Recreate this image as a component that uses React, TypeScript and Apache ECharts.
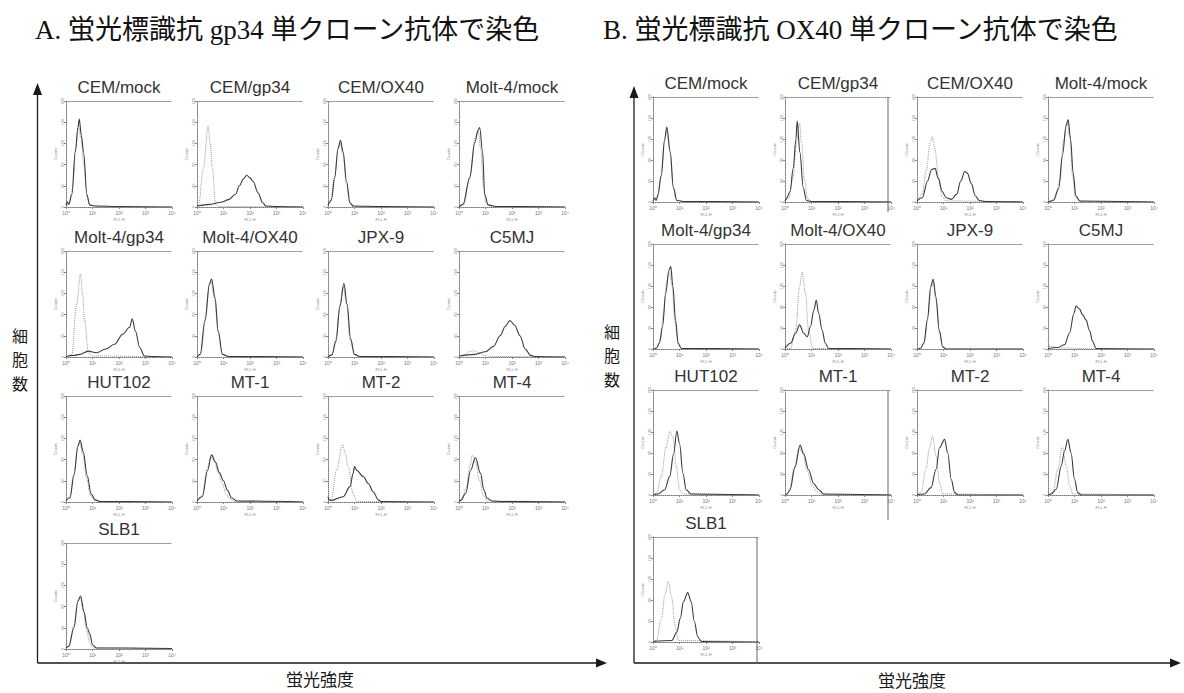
import React, { useEffect, useRef } from "react";
import * as echarts from "echarts";

type Pt = [number, number];

// x: log10 of fluorescence (0..4 decades), y: counts (0..200)
// ---------- Panel A (anti-gp34) ----------
const A_CEMmock_ctrl: Pt[] = [[0,1],[0.12,6],[0.25,35],[0.37,110],[0.48,152],[0.56,130],[0.68,80],[0.8,18],[0.92,3],[1.2,1],[4,0]];
const A_CEMmock_stain: Pt[] = [[0,3],[0.05,10],[0.1,5],[0.22,23],[0.35,104],[0.45,150],[0.5,166],[0.58,135],[0.66,104],[0.79,23],[0.89,4],[1.1,2],[2,1],[4,0]];
const A_CEMgp34_ctrl: Pt[] = [[0,2],[0.06,5],[0.24,73],[0.42,153],[0.5,120],[0.58,73],[0.7,5],[0.85,1],[4,0]];
const A_CEMgp34_stain: Pt[] = [[0,2],[0.5,5],[0.9,9],[1.2,14],[1.45,24],[1.6,40],[1.75,53],[1.88,60],[2.0,55],[2.12,48],[2.3,27],[2.48,8],[2.6,2],[3,1],[4,0]];
const A_CEMOX40_ctrl: Pt[] = [[0,2],[0.1,10],[0.25,58],[0.38,112],[0.46,120],[0.56,100],[0.7,42],[0.82,7],[0.95,1],[4,0]];
const A_CEMOX40_stain: Pt[] = [[0,3],[0.04,8],[0.13,14],[0.25,54],[0.38,110],[0.47,126],[0.57,104],[0.7,48],[0.83,8],[0.95,2],[2,1],[4,0]];
const A_Moltmock_ctrl: Pt[] = [[0,0],[0.18,4],[0.42,60],[0.6,130],[0.72,145],[0.82,110],[0.92,40],[1.02,6],[1.2,1],[4,0]];
const A_Moltmock_stain: Pt[] = [[0,0],[0.15,5],[0.4,54],[0.6,122],[0.72,145],[0.78,150],[0.89,104],[0.97,23],[1.1,4],[1.4,1],[4,0]];
const A_Moltgp34_ctrl: Pt[] = [[0,0],[0.22,5],[0.4,100],[0.55,157],[0.62,120],[0.71,68],[0.84,8],[1.0,2],[4,0]];
const A_Moltgp34_stain: Pt[] = [[0,1],[0.3,3],[0.52,5],[0.84,11],[1.15,8],[1.5,15],[1.83,24],[2.14,43],[2.4,56],[2.5,72],[2.62,49],[2.78,18],[2.96,2],[3.3,1],[4,0]];
const A_MoltOX40_ctrl: Pt[] = [[0,0],[0.14,6],[0.32,75],[0.47,135],[0.54,142],[0.66,108],[0.8,45],[0.95,5],[1.2,1],[4,0]];
const A_MoltOX40_stain: Pt[] = [[0,0],[0.12,5],[0.3,68],[0.47,138],[0.55,147],[0.68,112],[0.8,49],[0.96,5],[1.2,1],[4,0]];
const A_JPX9_ctrl: Pt[] = [[0,0],[0.15,5],[0.3,35],[0.45,100],[0.58,132],[0.7,98],[0.84,30],[1.0,4],[1.2,1],[4,0]];
const A_JPX9_stain: Pt[] = [[0,0],[0.15,4],[0.3,30],[0.45,95],[0.6,139],[0.72,100],[0.85,35],[1.0,5],[1.2,1],[4,0]];
const A_C5MJ_ctrl: Pt[] = [[0,0],[0.2,4],[0.4,10],[0.55,12],[0.75,8],[0.95,3],[1.2,1],[4,0]];
const A_C5MJ_stain: Pt[] = [[0,2],[0.6,5],[1.0,10],[1.3,20],[1.55,40],[1.75,58],[1.92,69],[2.1,60],[2.3,40],[2.5,15],[2.7,3],[2.9,1],[4,0]];
const A_HUT102_ctrl: Pt[] = [[0,2],[0.15,10],[0.3,55],[0.45,108],[0.52,112],[0.63,90],[0.78,45],[0.92,12],[1.08,3],[1.3,1],[4,0]];
const A_HUT102_stain: Pt[] = [[0,3],[0.15,8],[0.3,50],[0.45,105],[0.53,117],[0.65,95],[0.8,50],[0.95,15],[1.1,4],[1.3,1],[4,0]];
const A_MT1_ctrl: Pt[] = [[0,2],[0.2,12],[0.38,62],[0.52,85],[0.65,78],[0.8,55],[0.95,35],[1.1,15],[1.25,5],[1.45,1],[4,0]];
const A_MT1_stain: Pt[] = [[0,2],[0.2,10],[0.4,60],[0.55,89],[0.7,75],[0.85,55],[1.0,40],[1.15,22],[1.3,8],[1.5,2],[4,0]];
const A_MT2_ctrl: Pt[] = [[0,2],[0.13,7],[0.32,60],[0.55,108],[0.65,92],[0.76,67],[0.95,16],[1.08,1],[4,0]];
const A_MT2_stain: Pt[] = [[0,10],[0.04,4],[0.13,3],[0.57,10],[0.83,29],[0.95,54],[1.0,67],[1.08,60],[1.33,48],[1.52,35],[1.71,19],[1.9,4],[2.0,1],[4,0]];
const A_MT4_ctrl: Pt[] = [[0,1],[0.1,4],[0.28,28],[0.42,70],[0.5,89],[0.62,75],[0.78,40],[0.92,12],[1.05,2],[4,0]];
const A_MT4_stain: Pt[] = [[0,1],[0.06,3],[0.25,16],[0.44,60],[0.62,84],[0.81,54],[0.94,23],[1.06,7],[1.25,2],[1.6,1],[4,0]];
const A_SLB1_ctrl: Pt[] = [[0,1],[0.12,6],[0.3,45],[0.45,92],[0.53,98],[0.65,72],[0.78,35],[0.9,10],[1.02,2],[4,0]];
const A_SLB1_stain: Pt[] = [[0,2],[0.1,5],[0.3,40],[0.45,90],[0.55,100],[0.68,70],[0.8,40],[0.9,28],[1.0,8],[1.15,2],[4,1]];

// ---------- Panel B (anti-OX40) ----------
const B_CEMmock_ctrl: Pt[] = [[0,1],[0.15,8],[0.3,45],[0.43,112],[0.52,138],[0.63,100],[0.76,30],[0.88,4],[1.1,1],[4,0]];
const B_CEMmock_stain: Pt[] = [[0,2],[0.06,8],[0.12,3],[0.19,14],[0.31,51],[0.44,119],[0.52,143],[0.65,95],[0.77,27],[0.9,3],[1.2,1],[4,0]];
const B_CEMgp34_ctrl: Pt[] = [[0,1],[0.15,8],[0.3,45],[0.45,120],[0.55,150],[0.63,110],[0.74,40],[0.86,6],[1.0,1],[4,0]];
const B_CEMgp34_stain: Pt[] = [[0,2],[0.06,7],[0.19,20],[0.31,64],[0.41,119],[0.46,154],[0.56,95],[0.69,27],[0.81,3],[1.0,1],[4,0]];
const B_CEMOX40_ctrl: Pt[] = [[0,1],[0.2,15],[0.35,60],[0.5,115],[0.57,125],[0.68,100],[0.8,50],[0.95,10],[1.1,2],[4,0]];
const B_CEMOX40_stain: Pt[] = [[0,2],[0.2,8],[0.4,40],[0.55,62],[0.68,64],[0.8,45],[0.95,20],[1.1,8],[1.3,5],[1.5,15],[1.65,40],[1.8,58],[1.9,55],[2.05,35],[2.2,12],[2.35,3],[2.6,1],[4,0]];
const B_Moltmock_ctrl: Pt[] = [[0,0],[0.25,5],[0.45,40],[0.6,120],[0.72,150],[0.82,125],[0.93,50],[1.03,10],[1.2,1],[4,0]];
const B_Moltmock_stain: Pt[] = [[0,0],[0.2,3],[0.4,25],[0.55,90],[0.68,145],[0.76,157],[0.85,120],[0.95,55],[1.05,12],[1.2,2],[4,0]];
const B_Moltgp34_ctrl: Pt[] = [[0,0],[0.15,3],[0.28,20],[0.4,70],[0.52,130],[0.62,148],[0.72,120],[0.83,50],[0.95,8],[1.08,1],[4,0]];
const B_Moltgp34_stain: Pt[] = [[0,0],[0.12,1],[0.24,11],[0.36,43],[0.48,106],[0.6,150],[0.67,157],[0.75,119],[0.85,55],[0.95,11],[1.07,1],[4,0]];
const B_MoltOX40_ctrl: Pt[] = [[0,0],[0.21,1],[0.4,36],[0.55,119],[0.65,147],[0.77,106],[0.89,36],[1.04,1],[4,0]];
const B_MoltOX40_stain: Pt[] = [[0,1],[0.21,11],[0.4,30],[0.55,46],[0.71,30],[0.84,23],[0.96,43],[1.09,74],[1.18,93],[1.27,68],[1.4,36],[1.52,11],[1.65,1],[4,0]];
const B_JPX9_ctrl: Pt[] = [[0,0],[0.16,2],[0.3,18],[0.42,65],[0.54,118],[0.62,125],[0.72,92],[0.85,30],[0.98,3],[1.1,0],[4,0]];
const B_JPX9_stain: Pt[] = [[0,0],[0.13,1],[0.26,11],[0.39,55],[0.52,119],[0.61,133],[0.71,100],[0.84,36],[0.97,4],[1.1,0],[4,0]];
const B_C5MJ_ctrl: Pt[] = [[0,20],[0.05,5],[0.5,2],[2,0],[4,0]];
const B_C5MJ_stain: Pt[] = [[0,1],[0.37,3],[0.62,8],[0.81,30],[0.98,68],[1.06,82],[1.19,76],[1.31,65],[1.44,55],[1.56,36],[1.69,14],[1.81,1],[4,0]];
const B_HUT102_ctrl: Pt[] = [[0,1],[0.13,3],[0.31,35],[0.5,92],[0.63,121],[0.75,111],[0.88,54],[1.0,10],[1.13,2],[4,0]];
const B_HUT102_stain: Pt[] = [[0,1],[0.19,2],[0.44,10],[0.63,35],[0.78,79],[0.9,122],[1.0,98],[1.13,41],[1.25,10],[1.44,2],[4,0]];
const B_MT1_ctrl: Pt[] = [[0,0],[0.15,6],[0.35,50],[0.53,90],[0.66,80],[0.85,45],[1.02,18],[1.2,6],[1.4,1],[4,0]];
const B_MT1_stain: Pt[] = [[0,0],[0.06,1],[0.19,10],[0.38,54],[0.57,95],[0.7,79],[0.89,48],[1.08,22],[1.27,10],[1.46,2],[4,0]];
const B_MT2_ctrl: Pt[] = [[0,1],[0.15,5],[0.34,49],[0.47,90],[0.59,112],[0.72,74],[0.85,24],[0.97,2],[4,0]];
const B_MT2_stain: Pt[] = [[0,1],[0.28,2],[0.53,14],[0.72,49],[0.85,90],[1.04,106],[1.16,80],[1.29,30],[1.42,5],[1.54,0],[4,0]];
const B_MT4_ctrl: Pt[] = [[0,0],[0.19,5],[0.37,49],[0.54,92],[0.69,55],[0.81,18],[0.94,2],[4,0]];
const B_MT4_stain: Pt[] = [[0,0],[0.12,2],[0.31,11],[0.5,55],[0.62,83],[0.75,106],[0.87,80],[1.0,30],[1.12,5],[1.25,0],[4,0]];
const B_SLB1_ctrl: Pt[] = [[0,1],[0.13,3],[0.32,45],[0.45,90],[0.58,116],[0.71,84],[0.83,32],[0.96,3],[4,0]];
const B_SLB1_stain: Pt[] = [[0,1],[0.71,3],[0.9,19],[1.03,45],[1.15,77],[1.31,94],[1.44,77],[1.56,39],[1.69,10],[1.82,1],[4,0]];

const cellNames = ["CEM/mock", "CEM/gp34", "CEM/OX40", "Molt-4/mock", "Molt-4/gp34", "Molt-4/OX40", "JPX-9", "C5MJ", "HUT102", "MT-1", "MT-2", "MT-4", "SLB1"];

const panelACtrl = [A_CEMmock_ctrl, A_CEMgp34_ctrl, A_CEMOX40_ctrl, A_Moltmock_ctrl, A_Moltgp34_ctrl, A_MoltOX40_ctrl, A_JPX9_ctrl, A_C5MJ_ctrl, A_HUT102_ctrl, A_MT1_ctrl, A_MT2_ctrl, A_MT4_ctrl, A_SLB1_ctrl];
const panelAStain = [A_CEMmock_stain, A_CEMgp34_stain, A_CEMOX40_stain, A_Moltmock_stain, A_Moltgp34_stain, A_MoltOX40_stain, A_JPX9_stain, A_C5MJ_stain, A_HUT102_stain, A_MT1_stain, A_MT2_stain, A_MT4_stain, A_SLB1_stain];
const panelBCtrl = [B_CEMmock_ctrl, B_CEMgp34_ctrl, B_CEMOX40_ctrl, B_Moltmock_ctrl, B_Moltgp34_ctrl, B_MoltOX40_ctrl, B_JPX9_ctrl, B_C5MJ_ctrl, B_HUT102_ctrl, B_MT1_ctrl, B_MT2_ctrl, B_MT4_ctrl, B_SLB1_ctrl];
const panelBStain = [B_CEMmock_stain, B_CEMgp34_stain, B_CEMOX40_stain, B_Moltmock_stain, B_Moltgp34_stain, B_MoltOX40_stain, B_JPX9_stain, B_C5MJ_stain, B_HUT102_stain, B_MT1_stain, B_MT2_stain, B_MT4_stain, B_SLB1_stain];

const headerA = "A. 蛍光標識抗 gp34 単クローン抗体で染色";
const headerB = "B. 蛍光標識抗 OX40 単クローン抗体で染色";
const yAxisChars = ["細", "胞", "数"];
const xAxisTitle = "蛍光強度";
const supers = ["⁰", "¹", "²", "³", "⁴"];

const W = 1184;
const H = 693;

// layout
const layoutA = { cols: [66, 197, 328, 459], rows: [101, 251, 396, 543], w: 106, h: 106 };
const layoutB = { cols: [653, 785, 917, 1048], rows: [97, 244, 390, 537], w: 106, h: 105 };

const SERIF = "'Liberation Serif', 'Noto Sans CJK JP', serif";
const SANS = "'Liberation Sans', Arial, sans-serif";
const CJK = "'Noto Sans CJK JP', sans-serif";

export default function App() {
  const ref = useRef<HTMLDivElement>(null);
  useEffect(() => {
    if (!ref.current) return;
    const chart = echarts.init(ref.current, undefined, { renderer: "svg" });

    const grids: any[] = [];
    const xAxes: any[] = [];
    const yAxes: any[] = [];
    const series: any[] = [];
    const graphics: any[] = [];

    const panels = [
      { layout: layoutA, ctrl: panelACtrl, stain: panelAStain },
      { layout: layoutB, ctrl: panelBCtrl, stain: panelBStain },
    ];

    panels.forEach((p) => {
      cellNames.forEach((name, i) => {
        const g = grids.length;
        const col = i % 4;
        const row = Math.floor(i / 4);
        const left = p.layout.cols[col];
        const top = p.layout.rows[row];
        grids.push({ left, top, width: p.layout.w, height: p.layout.h, containLabel: false });
        xAxes.push({
          type: "value", gridIndex: g, min: 0, max: 4, interval: 1, position: "bottom",
          axisLine: { show: true, lineStyle: { color: "#777", width: 1, type: "dotted" } },
          axisTick: { show: true, length: 2, lineStyle: { color: "#888" } },
          axisLabel: { fontSize: 5, color: "#777", margin: 3, formatter: (v: number) => "10" + supers[v] },
          splitLine: { show: false },
          name: "FL1-H", nameLocation: "middle", nameGap: 10,
          nameTextStyle: { fontSize: 4, color: "#888" },
        });
        xAxes.push({
          type: "value", gridIndex: g, min: 0, max: 4, position: "top",
          axisLine: { show: true, lineStyle: { color: "#888", width: 1, type: "dotted" } },
          axisTick: { show: false }, axisLabel: { show: false }, splitLine: { show: false },
        });
        yAxes.push({
          type: "value", gridIndex: g, min: 0, max: 200, interval: 40,
          axisLine: { show: true, lineStyle: { color: "#777", width: 1, type: "dotted" } },
          axisTick: { show: true, length: 2, lineStyle: { color: "#888" } },
          axisLabel: { fontSize: 4, color: "#888", margin: 2, rotate: 90 },
          splitLine: { show: false },
          name: "Counts", nameLocation: "middle", nameGap: 9, nameRotate: 90,
          nameTextStyle: { fontSize: 4, color: "#888" },
        });
        series.push({
          type: "line", xAxisIndex: 2 * g, yAxisIndex: g, data: p.ctrl[i],
          showSymbol: false, smooth: 0.35, smoothMonotone: "x", silent: true,
          lineStyle: { color: "#9a9a9a", width: 1, type: "dotted" }, z: 2,
        });
        series.push({
          type: "line", xAxisIndex: 2 * g, yAxisIndex: g, data: p.stain[i],
          showSymbol: false, smooth: 0.35, smoothMonotone: "x", silent: true,
          lineStyle: { color: "#3a3a3a", width: 1.1 }, z: 3,
        });
        graphics.push({
          type: "text",
          style: {
            text: name, x: left + p.layout.w / 2, y: top - 14,
            align: "center", verticalAlign: "middle",
            fontSize: 17, fontFamily: SANS, fill: "#333",
          },
        });
      });
    });

    // axes arrows, labels, headers
    const ink = "#1a1a1a";
    const arrowLine = (x1: number, y1: number, x2: number, y2: number) => ({
      type: "line", shape: { x1, y1, x2, y2 }, style: { stroke: ink, lineWidth: 1.3 },
    });
    const poly = (pts: number[][]) => ({ type: "polygon", shape: { points: pts }, style: { fill: ink } });

    graphics.push(
      arrowLine(37.5, 92, 37.5, 663), poly([[33, 95], [42, 95], [37.5, 83]]),
      arrowLine(37.5, 663, 598, 663), poly([[596, 658.5], [596, 667.5], [607, 663]]),
      arrowLine(634, 95, 634, 663), poly([[629.5, 98], [638.5, 98], [634, 86]]),
      arrowLine(634, 663, 1172, 663), poly([[1170, 658.5], [1170, 667.5], [1181, 663]]),
      // scan frame borders in panel B
      { type: "line", shape: { x1: 888, y1: 97, x2: 888, y2: 212 }, style: { stroke: "#666", lineWidth: 1 } },
      { type: "line", shape: { x1: 888, y1: 390, x2: 888, y2: 520 }, style: { stroke: "#666", lineWidth: 1 } },
      { type: "line", shape: { x1: 757, y1: 537, x2: 757, y2: 663 }, style: { stroke: "#666", lineWidth: 1 } },
      {
        type: "text",
        style: { text: headerA, x: 35, y: 30, align: "left", verticalAlign: "middle", fontSize: 27, fontFamily: SERIF, fill: "#111" },
      },
      {
        type: "text",
        style: { text: headerB, x: 603, y: 30, align: "left", verticalAlign: "middle", fontSize: 27, fontFamily: SERIF, fill: "#111" },
      },
      {
        type: "text",
        style: { text: xAxisTitle, x: 320, y: 678, align: "center", verticalAlign: "middle", fontSize: 17, fontFamily: CJK, fill: ink },
      },
      {
        type: "text",
        style: { text: xAxisTitle, x: 912, y: 679, align: "center", verticalAlign: "middle", fontSize: 17, fontFamily: CJK, fill: ink },
      },
    );
    yAxisChars.forEach((ch, k) => {
      graphics.push({
        type: "text",
        style: { text: ch, x: 20, y: 335 + k * 24, align: "center", verticalAlign: "middle", fontSize: 16, lineHeight: 18, fontFamily: CJK, fill: ink },
      });
      graphics.push({
        type: "text",
        style: { text: ch, x: 612, y: 331 + k * 24, align: "center", verticalAlign: "middle", fontSize: 16, lineHeight: 18, fontFamily: CJK, fill: ink },
      });
    });

    chart.setOption({
      animation: false,
      backgroundColor: "#ffffff",
      grid: grids,
      xAxis: xAxes,
      yAxis: yAxes,
      series,
      graphic: graphics,
    });
    return () => chart.dispose();
  }, []);

  return (
    <div
      ref={ref}
      style={{ position: "fixed", left: 0, top: 0, width: W, height: H, background: "#fff" }}
    />
  );
}
